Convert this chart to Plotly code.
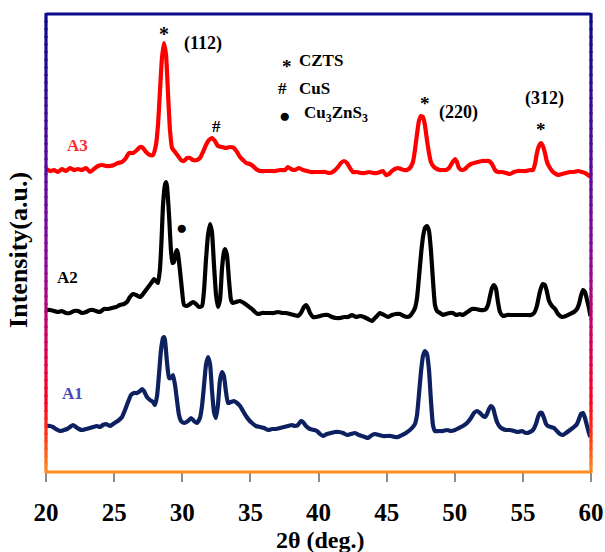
import plotly.graph_objects as go

# ---------------- data ----------------
theta_A3 = [20.04,20.29,20.59,20.88,21.17,21.47,21.76,22.05,22.35,22.64,22.94,23.23,23.52,23.82,24.11,24.40,24.70,24.99,25.28,25.58,
            25.87,26.09,26.39,26.68,26.90,27.12,27.34,27.63,27.85,28.07,28.22,28.37,28.51,28.66,28.81,28.95,29.10,29.25,29.47,29.69,
            29.91,30.13,30.35,30.57,30.79,31.08,31.30,31.52,31.74,31.96,32.18,32.40,32.62,32.92,33.21,33.50,33.80,34.02,34.24,34.46,
            34.68,34.97,35.19,35.41,35.71,36.07,36.44,36.81,37.17,37.54,37.76,37.98,38.27,38.57,38.86,39.15,39.45,39.74,40.11,40.48,
            40.84,41.14,41.43,41.65,41.87,42.09,42.31,42.53,42.82,43.12,43.41,43.71,44.00,44.29,44.51,44.73,44.95,45.17,45.39,45.61,
            45.83,46.05,46.27,46.49,46.71,46.93,47.08,47.23,47.37,47.52,47.67,47.81,47.96,48.11,48.25,48.48,48.70,48.92,49.14,49.36,
            49.58,49.80,50.02,50.16,50.31,50.53,50.75,50.97,51.19,51.41,51.70,52.00,52.29,52.51,52.73,52.95,53.17,53.47,53.76,54.05,
            54.35,54.64,54.93,55.23,55.52,55.74,55.89,56.03,56.18,56.33,56.47,56.62,56.77,56.99,57.21,57.43,57.65,57.87,58.16,58.46,
            58.75,59.04,59.34,59.56,59.78,59.96]
int_A3 = [303,301,302,300,303,301,304,302,303,302,304,300,303,306,307,306,306,307,309,310,
          314,319,319,322,325,324,320,317,317,327,347,382,414,429,417,380,342,324,320,316,
          312,311,314,314,312,312,314,320,327,332,334,331,326,325,324,325,324,320,315,312,
          309,308,306,303,301,301,301,301,302,302,305,303,302,304,302,301,300,300,300,300,
          299,301,305,309,311,309,304,300,300,299,299,300,299,299,300,301,297,298,301,303,
          304,303,302,302,304,310,322,338,351,356,355,347,332,319,310,305,303,302,302,302,
          304,309,313,310,304,302,303,306,308,309,310,311,311,311,308,302,300,300,299,298,
          300,301,301,301,302,302,308,319,326,329,326,319,310,304,300,298,297,298,299,300,
          300,301,300,299,297,295]

theta_A2 = [20.04,20.29,20.59,20.88,21.17,21.47,21.76,22.05,22.35,22.64,22.94,23.23,23.45,23.67,23.96,24.26,24.55,24.84,25.14,25.43,
            25.72,25.94,26.16,26.39,26.61,26.90,27.12,27.34,27.56,27.78,27.93,28.07,28.22,28.37,28.48,28.59,28.73,28.81,28.88,29.03,
            29.17,29.28,29.39,29.54,29.61,29.69,29.83,29.98,30.13,30.35,30.57,30.79,31.01,31.23,31.45,31.60,31.74,31.89,32.04,32.18,
            32.33,32.48,32.62,32.77,32.92,33.06,33.14,33.28,33.43,33.58,33.72,33.94,34.24,34.53,34.82,35.12,35.34,35.56,35.85,36.15,
            36.44,36.73,37.03,37.32,37.61,37.91,38.20,38.49,38.71,38.93,39.08,39.23,39.38,39.60,39.82,40.11,40.40,40.70,40.99,41.28,
            41.58,41.87,42.16,42.46,42.75,43.04,43.34,43.63,43.93,44.22,44.51,44.81,45.10,45.39,45.69,45.98,46.27,46.49,46.71,46.93,
            47.08,47.23,47.37,47.52,47.67,47.81,47.96,48.11,48.25,48.40,48.55,48.70,48.92,49.14,49.36,49.65,49.87,50.09,50.38,50.60,
            50.82,51.04,51.26,51.56,51.85,52.14,52.29,52.44,52.59,52.73,52.88,53.03,53.17,53.32,53.54,53.83,54.13,54.42,54.71,55.01,
            55.30,55.59,55.82,56.03,56.18,56.33,56.47,56.62,56.77,56.92,57.14,57.36,57.58,57.87,58.16,58.46,58.75,58.97,59.12,59.26,
            59.41,59.56,59.71,59.85,59.96]
int_A2 = [162,162,161,160,161,159,159,161,161,159,160,162,162,161,160,163,163,164,165,167,
          168,170,175,178,177,175,178,182,186,190,193,191,189,204,232,267,287,290,286,257,
          222,209,210,220,222,218,202,182,167,166,168,170,168,165,166,182,212,237,248,240,
          207,177,165,172,204,220,223,217,192,172,169,170,171,169,166,163,160,158,159,159,
          159,159,160,159,159,158,157,156,159,165,167,164,159,155,155,156,157,157,155,154,
          154,155,155,157,155,156,155,153,151,155,159,157,155,157,158,158,156,155,156,160,
          164,174,194,217,235,244,246,241,222,192,167,161,159,157,158,159,159,157,158,157,
          159,161,163,163,162,162,163,167,176,184,187,183,170,160,156,157,157,157,157,157,
          157,157,159,166,176,184,188,187,180,171,166,163,158,155,156,158,160,163,168,176,
          182,180,172,164,156]

theta_A1 = [20.04,20.29,20.51,20.73,21.03,21.32,21.54,21.76,21.98,22.20,22.42,22.64,22.94,23.23,23.45,23.74,23.96,24.18,24.40,24.55,
            24.70,24.92,25.14,25.36,25.58,25.80,26.02,26.24,26.46,26.68,26.90,27.05,27.19,27.41,27.63,27.85,28.00,28.15,28.29,28.44,
            28.59,28.66,28.73,28.88,29.03,29.17,29.32,29.47,29.61,29.76,29.91,30.13,30.42,30.64,30.86,31.08,31.30,31.45,31.60,31.74,
            31.89,32.04,32.18,32.33,32.48,32.62,32.77,32.92,33.06,33.21,33.36,33.58,33.80,34.02,34.24,34.46,34.68,34.90,35.12,35.41,
            35.71,36.00,36.29,36.59,36.88,37.17,37.47,37.76,38.05,38.27,38.49,38.71,38.86,39.08,39.38,39.67,39.89,40.11,40.33,40.62,
            40.92,41.21,41.50,41.80,42.09,42.38,42.68,42.97,43.19,43.41,43.63,43.93,44.15,44.44,44.73,45.03,45.32,45.61,45.83,46.13,
            46.42,46.71,46.93,47.08,47.23,47.37,47.52,47.67,47.81,47.96,48.11,48.25,48.40,48.55,48.84,49.14,49.43,49.72,50.02,50.31,
            50.60,50.90,51.19,51.41,51.63,51.85,52.07,52.22,52.37,52.51,52.66,52.81,52.95,53.10,53.32,53.54,53.76,54.05,54.35,54.64,
            54.93,55.23,55.52,55.74,55.96,56.11,56.26,56.40,56.55,56.70,56.84,57.06,57.28,57.50,57.72,57.94,58.16,58.46,58.75,58.97,
            59.12,59.26,59.41,59.56,59.71,59.85,59.96]
int_A1 = [46,46,45,43,41,42,43,45,47,45,43,42,43,44,45,46,45,47,48,47,
          46,48,50,52,55,62,70,77,79,79,81,83,81,75,72,70,67,76,97,122,
          134,135,132,110,94,94,97,87,72,57,51,49,51,54,51,49,54,66,87,107,
          115,108,82,60,54,67,92,100,96,80,69,70,71,69,66,61,56,52,49,46,
          45,44,42,43,43,44,45,46,47,46,47,51,50,46,43,42,41,38,36,38,
          39,40,40,39,37,38,39,37,36,35,34,37,38,37,36,36,36,35,35,37,
          39,42,45,48,57,77,100,116,121,118,102,72,47,41,41,41,42,41,42,44,
          46,49,54,59,61,59,56,55,58,63,66,64,57,50,45,43,42,42,41,40,
          41,39,40,42,48,55,59,59,54,48,46,45,44,41,38,37,39,42,45,48,
          53,58,59,54,46,39,35]

series_names = ["A3", "A2", "A1"]
series_colors = ["#ff0000", "#000000", "#0d2060"]
label_colors = ["#ff2a2a", "#000000", "#4848b8"]
x_ticks = [20, 25, 30, 35, 40, 45, 50, 55, 60]

# ---------------- figure ----------------
SERIF = "Liberation Serif, Times New Roman, serif"
fig = go.Figure()
for th, iv, nm, col in zip([theta_A3, theta_A2, theta_A1], [int_A3, int_A2, int_A1],
                           series_names, series_colors):
    fig.add_trace(go.Scatter(x=th, y=iv, mode="lines", name=nm,
                             line=dict(color=col, width=4.2, shape="spline", smoothing=0.5),
                             showlegend=False, hoverinfo="skip"))

fig.update_layout(
    width=605, height=552,
    margin=dict(l=46, r=14, t=14, b=80, autoexpand=False),
    paper_bgcolor="white", plot_bgcolor="white",
    font=dict(family=SERIF, color="black"),
    xaxis=dict(range=[20, 60], tickmode="array", tickvals=x_ticks, ticktext=[str(v) for v in x_ticks],
               ticks="outside", ticklen=9, tickwidth=1.5, tickcolor="#8c8c8c",
               showgrid=False, zeroline=False, showline=False, automargin=False,
               tickfont=dict(family=SERIF, size=25, color="black", weight="bold"),
               ticklabelstandoff=9),
    yaxis=dict(range=[0, 458], showticklabels=False, ticks="", showgrid=False,
               zeroline=False, showline=False, automargin=False),
)

# ---------------- gradient frame ----------------
stops = [(0.0, (10, 10, 140)), (0.35, (90, 10, 160)), (0.55, (140, 10, 150)),
         (0.72, (210, 0, 90)), (0.85, (255, 0, 30)), (0.93, (255, 60, 20)), (1.0, (255, 140, 30))]

def grad(t):
    for (t0, c0), (t1, c1) in zip(stops[:-1], stops[1:]):
        if t0 <= t <= t1:
            f = (t - t0) / (t1 - t0)
            return "rgb(%d,%d,%d)" % tuple(round(a + (b - a) * f) for a, b in zip(c0, c1))
    return "rgb(%d,%d,%d)" % stops[-1][1]

N = 60
for side_x in (0, 1):
    for k in range(N):
        y0 = 1 - k / N
        y1 = 1 - (k + 1) / N
        fig.add_shape(type="line", xref="paper", yref="paper", x0=side_x, x1=side_x,
                      y0=y0 + 0.002, y1=y1 - 0.002, line=dict(color=grad((k + 0.5) / N), width=3.2))
fig.add_shape(type="line", xref="paper", yref="paper", x0=0, x1=1, y0=1, y1=1,
              line=dict(color="rgb(10,10,140)", width=3.2))
fig.add_shape(type="line", xref="paper", yref="paper", x0=0, x1=1, y0=0, y1=0,
              line=dict(color="rgb(255,140,30)", width=3.2))

# ---------------- annotations ----------------
def txt(x, y, s, size=18, color="black", anchor="center", **kw):
    fig.add_annotation(x=x, y=y, xref="x", yref="y", text="<b>%s</b>" % s, showarrow=False,
                       xanchor=anchor, yanchor="middle",
                       font=dict(family=SERIF, size=size, color=color), **kw)

txt(28.66, 438, "*", 20)
txt(31.52, 429, "(112)", 18)
txt(37.69, 406, "*", 19)
txt(38.42, 412, "CZTS", 17, anchor="left")
txt(37.39, 384, "#", 17)
txt(38.42, 384, "CuS", 17, anchor="left")
txt(37.54, 357, "●", 19)
txt(38.79, 358, "Cu<sub>3</sub>ZnS<sub>3</sub>", 17, anchor="left")
txt(32.48, 346, "#", 17)
txt(47.82, 369, "*", 19)
txt(50.24, 360, "(220)", 18)
txt(56.62, 374, "(312)", 18)
txt(56.33, 343, "*", 19)
txt(29.91, 245, "●", 19)

for nm, lc, (lx, ly) in zip(series_names, label_colors, [(22.28, 327), (21.61, 195), (21.98, 79)]):
    txt(lx, ly, nm, 17, color=lc)

fig.add_annotation(xref="paper", yref="paper", x=-0.0495, y=0.485, text="<b>Intensity(a.u.)</b>",
                   textangle=-90, showarrow=False, xanchor="center", yanchor="middle",
                   font=dict(family=SERIF, size=26, color="black"))
fig.add_annotation(xref="paper", yref="paper", x=0.503, y=-0.148, text="<b>2θ (deg.)</b>",
                   showarrow=False, xanchor="center", yanchor="middle",
                   font=dict(family=SERIF, size=24, color="black"))

fig.write_html("out.html", config={"displayModeBar": False},
               post_script="document.body.style.margin='0px';")
